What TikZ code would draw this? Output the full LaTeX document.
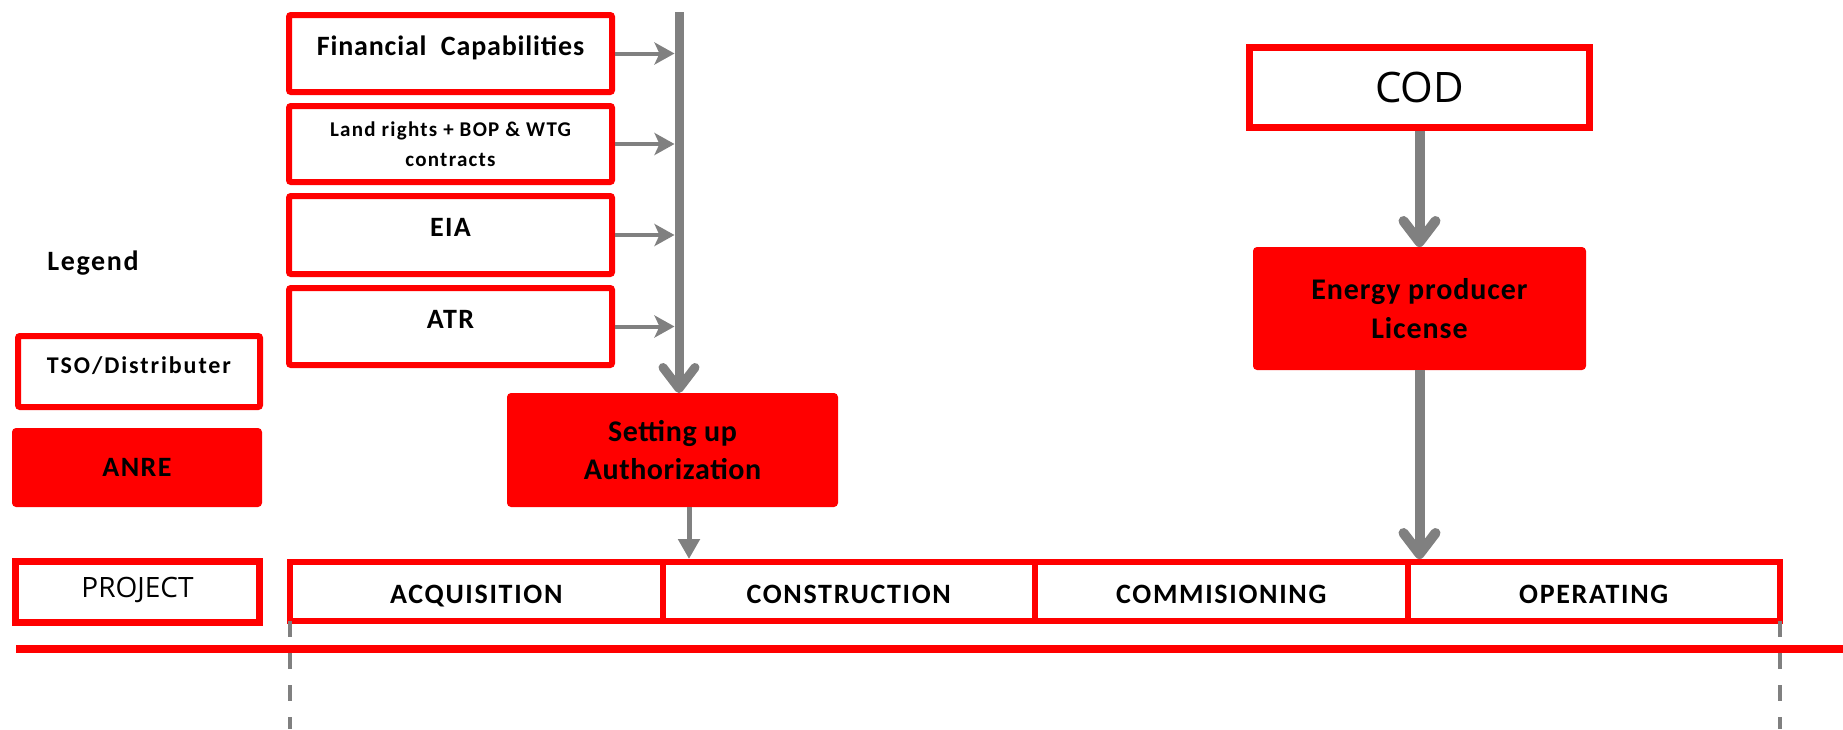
\documentclass[tikz,border=0pt]{standalone}
\usepackage{fontspec}
\setmainfont{Carlito}
\newfontfamily\osans{Open Sans}
\newcommand{\lsp}[1]{\addfontfeature{LetterSpace=#1}}
\usepackage{tikz}
\usetikzlibrary{arrows.meta,positioning,calc}
\tikzset{
	redbox/.style={draw=red, line width=6pt, fill=white, rounded corners=2pt,
		align=center, inner sep=0pt, outer sep=0pt, text=black},
	anrebox/.style={fill=red, rounded corners=4pt, align=center,
		inner sep=0pt, outer sep=0pt, text=black},
	hightext/.style={text height=20pt, text depth=17pt},
	phasebox/.style={redbox, rounded corners=0pt, minimum width=372.5pt,
		minimum height=59pt, text height=23pt, text depth=0pt,
		font=\fontsize{28}{32}\selectfont\bfseries\lsp{6}},
	bigarrow/.style={draw=gray, line width=10pt,
		-{Straight Barb[length=21pt, width=32pt, round]}},
	smallarrow/.style={draw=gray, line width=4pt,
		-{Stealth[length=20pt, width=22pt, inset=5pt]}},
	dashedline/.style={draw=gray, line width=4pt, dash pattern=on 16pt off 16pt}
}

\begin{document}
\begin{tikzpicture}[x=1pt, y=-1pt]
	\useasboundingbox (0,0) rectangle (1843,729);
	
	%% ── Requirements (top-left column) ──────────────────────────────
	\node[redbox, hightext, minimum width=323pt, minimum height=77pt,
	font=\fontsize{28}{32}\selectfont\bfseries\lsp{3}] (fin) at (450.5,53.5)
	{Financial\ \ Capabilities};
	\node[redbox, minimum width=323pt, minimum height=76pt,
	font=\fontsize{21}{30}\selectfont\bfseries\lsp{6}, below=14pt of fin] (land)
	{Land rights + BOP \& WTG\\contracts};
	\node[redbox, hightext, minimum width=323pt, minimum height=78pt,
	font=\fontsize{28}{32}\selectfont\bfseries\lsp{5}, below=14pt of land] (eia)
	{EIA};
	\node[redbox, hightext, minimum width=323pt, minimum height=77pt,
	font=\fontsize{28}{32}\selectfont\bfseries\lsp{5}, below=14pt of eia] (atr)
	{ATR};
	
	%% ── Setting up Authorization ────────────────────────────────────
	\node[anrebox, minimum width=331pt, minimum height=114pt,
	font=\fontsize{30}{38}\selectfont\bfseries\lsp{2}] (setting) at (672.5,450)
	{Setting up\\Authorization};
	
	%% ── Spine collecting the requirements ───────────────────────────
	\coordinate (spine) at (679,12);
	\draw[bigarrow, line width=9pt] (spine) -- (spine |- setting.north);
	\foreach \req in {fin, land, eia, atr}
	\draw[smallarrow, shorten <=3pt, shorten >=4.5pt]
	(\req.east) -- (\req.east -| spine);
	
	%% ── Legend ──────────────────────────────────────────────────────
	\node[font=\fontsize{28}{32}\selectfont\bfseries\lsp{6}] (legend) at (93,263)
	{Legend};
	\node[redbox, hightext, minimum width=242pt, minimum height=71pt,
	font=\fontsize{24}{28}\selectfont\bfseries\lsp{8}] (tso) at (139,371.5)
	{TSO/Distributer};
	\node[anrebox, minimum width=250pt, minimum height=79pt,
	font=\fontsize{28}{32}\selectfont\bfseries\lsp{5}] (anre) at (137,467.5)
	{ANRE};
	\node[redbox, line width=7pt, rounded corners=0pt, minimum width=244pt,
	minimum height=61pt, text height=21pt, text depth=10pt,
	font=\osans\fontsize{28}{32}\selectfont] (project)
	at (137.5,591.5) {PROJECT};
	
	%% ── Project phases ──────────────────────────────────────────────
	\node[phasebox] (acq) at (476.25,591.5) {ACQUISITION};
	\node[phasebox, right=0pt of acq] (cons) {CONSTRUCTION};
	\node[phasebox, right=0pt of cons] (comm) {COMMISIONING};
	\node[phasebox, right=0pt of comm] (oper) {OPERATING};
	
	%% ── COD and license (top-right) ─────────────────────────────────
	\node[redbox, line width=7pt, rounded corners=0pt, minimum width=340pt,
	minimum height=80pt, font=\osans\fontsize{42}{48}\selectfont] (cod)
	at (1419.5,87.5) {COD};
	\node[anrebox, minimum width=333pt, minimum height=123pt,
	font=\fontsize{30}{39}\selectfont\bfseries\lsp{3}] (license) at (1419.5,308.5)
	{Energy producer\\License};
	
	\draw[bigarrow, shorten <=3.5pt] (cod.south) -- (license.north);
	\draw[bigarrow, shorten >=3pt] (license.south) -- (license.south |- oper.north);
	\draw[smallarrow, line width=5pt, -{Triangle[length=20pt, width=21pt]},
	shorten >=3pt]
	([xshift=16.5pt]setting.south) -- ([xshift=16.5pt]setting.south |- acq.north);
	
	%% ── Time line ───────────────────────────────────────────────────
	\coordinate (bottom) at (0,729);
	\draw[dashedline] (acq.south west) -- (acq.south west |- bottom);
	\draw[dashedline] (oper.south east) -- (oper.south east |- bottom);
	\coordinate (line-w) at (16,649);
	\coordinate (line-e) at (1843,649);
	\draw[red, line width=8pt] (line-w) -- (line-e);
	
\end{tikzpicture}
\end{document}
